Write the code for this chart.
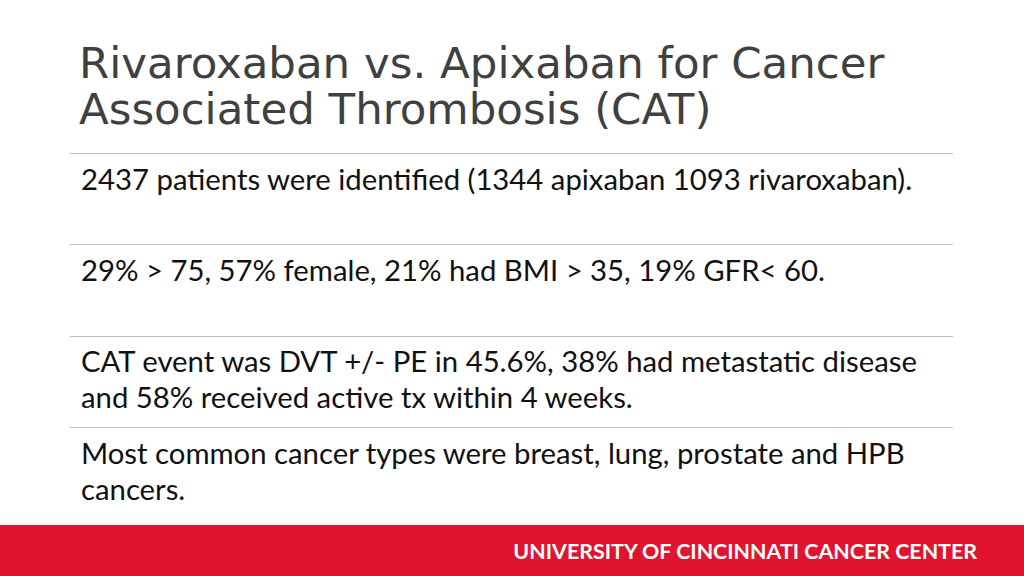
<!DOCTYPE html>
<html>
<head>
<meta charset="utf-8">
<script src="https://cdn.jsdelivr.net/npm/chart.js@4"></script>
<style>
  body { margin: 0; width: 1024px; height: 576px; background: #fff; position: relative; overflow: hidden; }
  .title { position: absolute; left: 79px; top: 40px; font-family: "DejaVu Sans", sans-serif; font-size: 43.5px; line-height: 46px; color: #404040; }
  .rule { position: absolute; left: 70px; width: 883px; height: 1px; background: #bfbfbf; }
  .row { position: absolute; left: 81px; font-family: Lato, sans-serif; font-size: 29.3px; line-height: 36px; color: #111; }
  .band { position: absolute; left: 0; top: 525px; width: 1024px; height: 51px; background: #e0142f; }
  .band span { position: absolute; right: 47px; top: 13px; font-family: Lato, sans-serif; font-weight: bold; font-size: 21.4px; color: #fff; }
</style>
</head>
<body>
<div class="title" id="title"></div>
<div id="rows"></div>
<div class="band"><span id="footer"></span></div>
<script>
const titleLines = ["Rivaroxaban vs. Apixaban for Cancer", "Associated Thrombosis (CAT)"];
const bullets = [
  "2437 patients were identified (1344 apixaban 1093 rivaroxaban).",
  "29% > 75, 57% female, 21% had BMI > 35, 19% GFR< 60.",
  "CAT event was DVT +/- PE in 45.6%, 38% had metastatic disease<br>and 58% received active tx within 4 weeks.",
  "Most common cancer types were breast, lung, prostate and HPB<br>cancers."
];
const rowTops = [161, 252, 343, 435];
const ruleTops = [153, 244, 336, 427];
const footerText = "UNIVERSITY OF CINCINNATI CANCER CENTER";

document.getElementById("title").innerHTML = titleLines.join("<br>");
document.getElementById("footer").textContent = footerText;
const rows = document.getElementById("rows");
ruleTops.forEach(t => {
  const d = document.createElement("div");
  d.className = "rule"; d.style.top = t + "px";
  rows.appendChild(d);
});
bullets.forEach((b, i) => {
  const d = document.createElement("div");
  d.className = "row"; d.style.top = rowTops[i] + "px";
  d.innerHTML = b.replace(/> /g, "&gt; ");
  rows.appendChild(d);
});
</script>
</body>
</html>
